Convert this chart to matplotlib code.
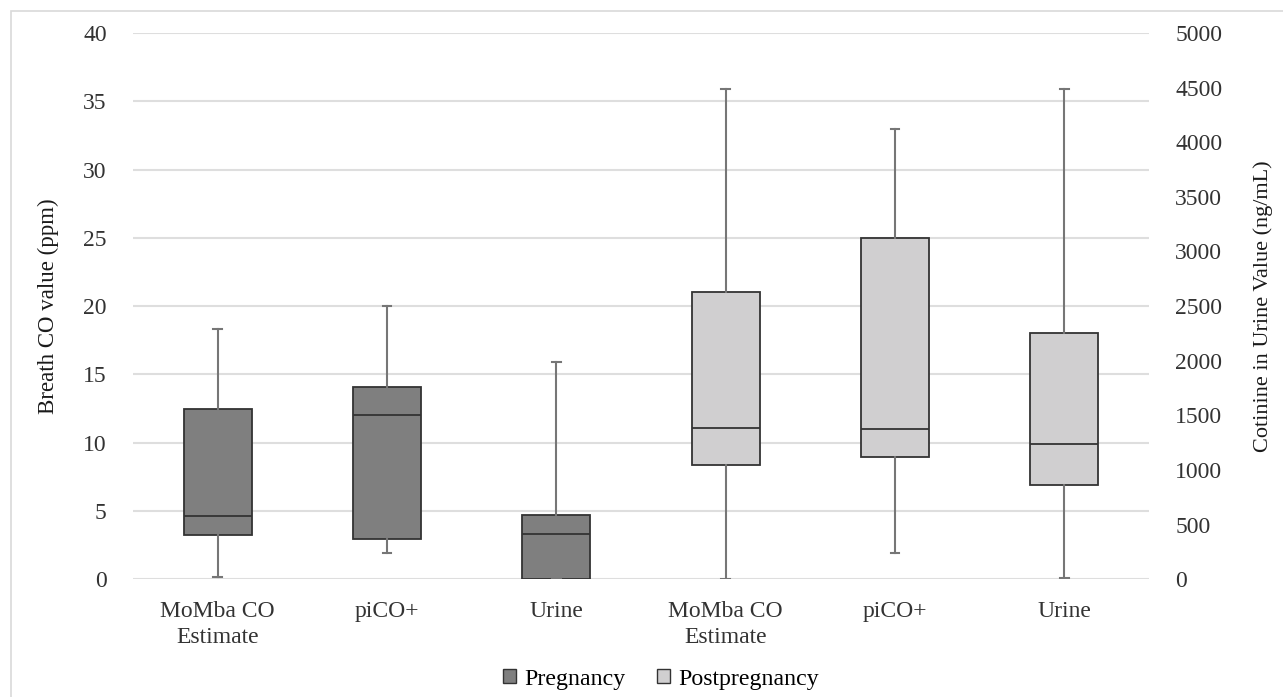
import matplotlib
matplotlib.use("Agg")
import matplotlib.pyplot as plt
from matplotlib.patches import Patch, Rectangle

plt.rcParams['font.family'] = ['Liberation Serif', 'DejaVu Serif']

# category labels along the x axis
categories = ['MoMba CO\nEstimate', 'piCO+', 'Urine', 'MoMba CO\nEstimate', 'piCO+', 'Urine']

# breath CO (ppm) boxes: MoMba preg, piCO+ preg, MoMba post, piCO+ post
co_pos = [0, 1, 3, 4]
co_group = ['Pregnancy', 'Pregnancy', 'Postpregnancy', 'Postpregnancy']
co_min = [0.15, 1.9, 0.0, 1.9]
co_q1 = [3.25, 2.95, 8.4, 8.95]
co_med = [4.6, 12.0, 11.05, 11.0]
co_q3 = [12.5, 14.05, 21.05, 25.0]
co_max = [18.3, 20.0, 35.9, 33.0]

# urine cotinine (ng/mL) boxes, on the right axis
ur_pos = [2, 5]
ur_group = ['Pregnancy', 'Postpregnancy']
ur_min = [0, 10]
ur_q1 = [0, 860]
ur_med = [410, 1240]
ur_q3 = [590, 2250]
ur_max = [1990, 4490]

colors = {'Pregnancy': '#7f7f7f', 'Postpregnancy': '#d0cfd0'}


def make_stats(lo, q1, med, q3, hi):
    stats = []
    for i in range(len(lo)):
        stats.append(dict(whislo=lo[i], q1=q1[i], med=med[i], q3=q3[i], whishi=hi[i], fliers=[]))
    return stats


def draw_boxes(ax, stats, pos, grp):
    bp = ax.bxp(stats, positions=pos, widths=0.4, patch_artist=True, showfliers=False,
                boxprops=dict(edgecolor='#333333', linewidth=1.3),
                medianprops=dict(color='#333333', linewidth=1.3),
                whiskerprops=dict(color='#767676', linewidth=1.5),
                capprops=dict(color='#767676', linewidth=1.5), capwidths=0.05)
    for patch, g in zip(bp['boxes'], grp):
        patch.set_facecolor(colors[g])
    return bp


fig = plt.figure(figsize=(12.83, 6.97), dpi=100)
ax1 = fig.add_axes([0.1037, 0.1689, 0.7918, 0.7838])
ax2 = ax1.twinx()

# outer chart border like the original office chart
fig.patches.append(Rectangle((11 / 1283, -0.05), 1.2, 1 - 11 / 697 + 0.05, transform=fig.transFigure,
                             fill=False, edgecolor='#d9d9d9', linewidth=1.2, zorder=0))

ax1.set_ylim(0, 40)
ax1.set_yticks(range(0, 41, 5))
ax2.set_ylim(0, 5000)
ax2.set_yticks(range(0, 5001, 500))
ax1.set_xlim(-0.5, 5.5)

ax1.yaxis.grid(True, color='#dedede', linewidth=1.5)
ax1.set_axisbelow(True)

draw_boxes(ax1, make_stats(co_min, co_q1, co_med, co_q3, co_max), co_pos, co_group)
draw_boxes(ax2, make_stats(ur_min, ur_q1, ur_med, ur_q3, ur_max), ur_pos, ur_group)

ax1.set_xticks(range(len(categories)))
ax1.set_xticklabels(categories, fontsize=15.5, color='#333333', linespacing=1.3)

for ax in (ax1, ax2):
    for s in ax.spines.values():
        s.set_visible(False)
    ax.tick_params(length=0, labelsize=17, labelcolor='#333333')
ax1.tick_params(axis='y', pad=19)
ax2.tick_params(axis='y', pad=19)
ax1.tick_params(axis='x', pad=16)

ax1.set_ylabel('Breath CO value (ppm)', fontsize=16.5, color='#1a1a1a', labelpad=17)
ax2.set_ylabel('Cotinine in Urine Value (ng/mL)', fontsize=16, color='#1a1a1a', labelpad=22)

handles = [Patch(facecolor=colors['Pregnancy'], edgecolor='#333333', label='Pregnancy'),
           Patch(facecolor=colors['Postpregnancy'], edgecolor='#333333', label='Postpregnancy')]
fig.legend(handles=handles, loc='center', bbox_to_anchor=(661 / 1283, 1 - 679 / 697), ncol=2,
           frameon=False, fontsize=17.2, handlelength=0.55, handleheight=0.55, handletextpad=0.35,
           columnspacing=1.3)

fig.savefig('out.png', dpi=100)
